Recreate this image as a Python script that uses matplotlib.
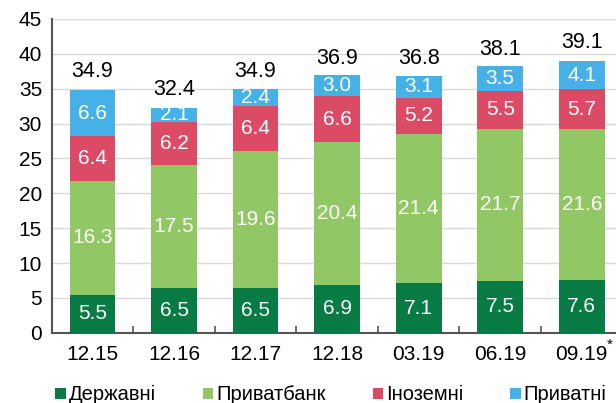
import matplotlib.pyplot as plt
import numpy as np

plt.rcParams['font.family'] = ['Liberation Sans', 'DejaVu Sans']

periods = ['12.15', '12.16', '12.17', '12.18', '03.19', '06.19', '09.19']
state = [5.5, 6.5, 6.5, 6.9, 7.1, 7.5, 7.6]
privatbank = [16.3, 17.5, 19.6, 20.4, 21.4, 21.7, 21.6]
foreign = [6.4, 6.2, 6.4, 6.6, 5.2, 5.5, 5.7]
private = [6.6, 2.1, 2.4, 3.0, 3.1, 3.5, 4.1]
totals = [34.9, 32.4, 34.9, 36.9, 36.8, 38.1, 39.1]

names = ['Державні', 'Приватбанк', 'Іноземні', 'Приватні']
colors = ['#087b45', '#92c765', '#dc4b65', '#46b1e6']
series = [state, privatbank, foreign, private]

fig = plt.figure(figsize=(6.16, 4.03), dpi=100)
ax = fig.add_axes([0.084, 0.174, 0.916, 0.779])

x = np.arange(len(periods))
bottom = np.zeros(len(periods))
for vals, name, col in zip(series, names, colors):
    ax.bar(x, vals, width=0.56, bottom=bottom, color=col, label=name, zorder=3)
    for xi, b, v in zip(x, bottom, vals):
        ax.text(xi, b + v / 2, f'{v:.1f}', ha='center', va='center',
                color='white', fontsize=15, zorder=4)
    bottom += np.array(vals)

for xi, t in zip(x, totals):
    ax.text(xi, t + 2.5, f'{t:.1f}', ha='center', va='center', color='black', fontsize=15.5)

ax.set_ylim(0, 45)
ax.set_xlim(-0.5, 6.42)
ax.set_yticks(np.arange(0, 46, 5))
ax.set_xticks(x)
ax.set_xticklabels(periods)
ax.set_xticks(np.arange(0.5, 6.5, 1), minor=True)
ax.tick_params(axis='x', which='major', length=0, labelsize=15, pad=9)
ax.tick_params(axis='x', which='minor', length=5, direction='in', color='#555555', width=1.2)
ax.tick_params(axis='y', length=0, labelsize=15, pad=7)
ax.grid(axis='y', color='#d9d9d9', linewidth=1, zorder=0)

# footnote star on the last period label
ax.annotate('*', xy=(x[-1], 0), xytext=(28, -12), textcoords='offset pixels',
            ha='center', va='center', fontsize=11, annotation_clip=False)

for s in ['top', 'right']:
    ax.spines[s].set_visible(False)
for s in ['left', 'bottom']:
    ax.spines[s].set_color('#555555')
    ax.spines[s].set_linewidth(1.5)

fig.legend(loc='center left', bbox_to_anchor=(0.09, 0.02), ncol=4, frameon=False,
           fontsize=14.5, handlelength=0.5, handleheight=0.5, handletextpad=0.15,
           columnspacing=2.35, borderpad=0, borderaxespad=0)

plt.savefig('out.png', dpi=100)
